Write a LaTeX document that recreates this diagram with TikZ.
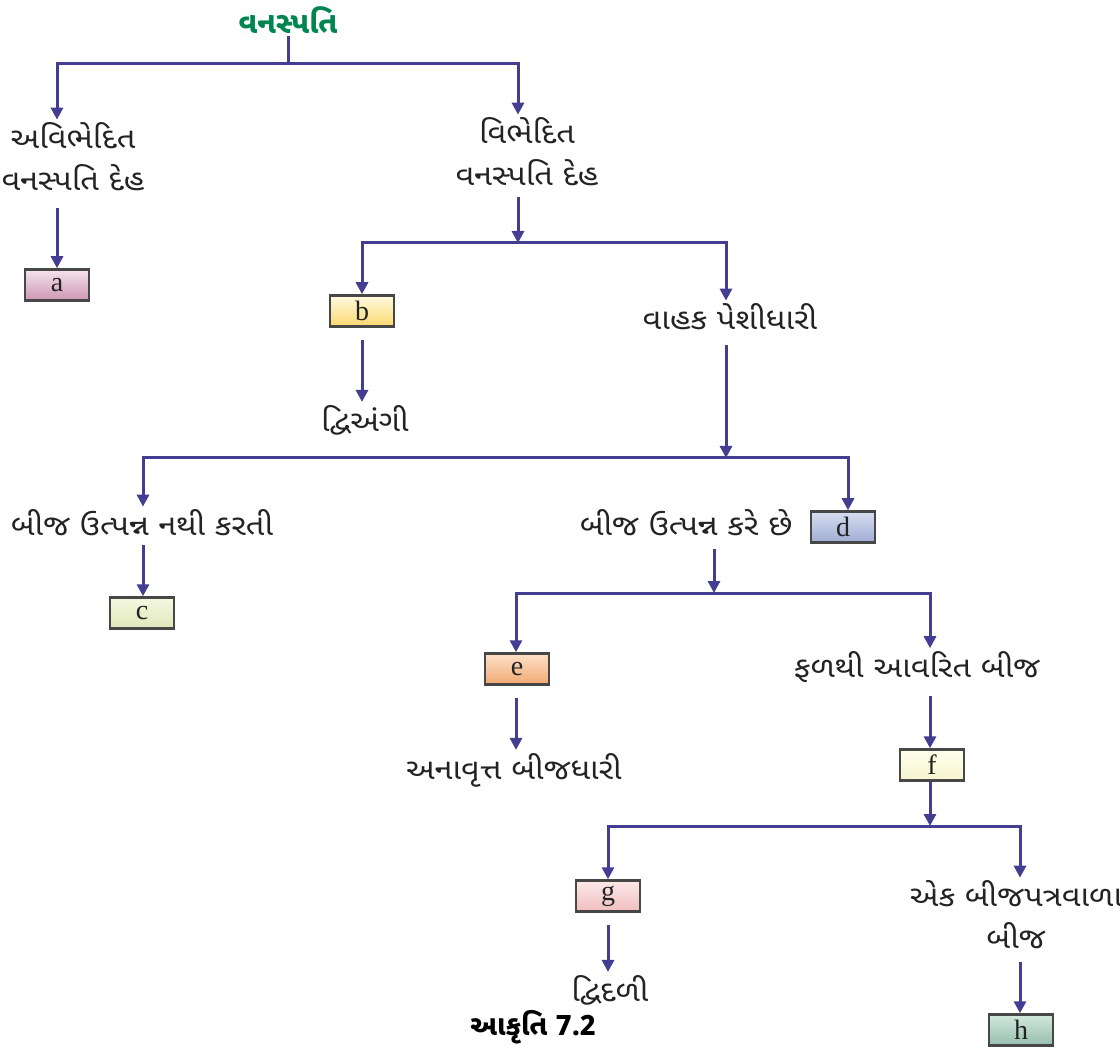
\documentclass[tikz,border=0pt]{standalone}
\usepackage{fontspec}
\setmainfont{Liberation Serif}
\newfontfamily\guj[Script=Gujarati]{Noto Sans Gujarati UI}
\newfontfamily\gujw[Script=Gujarati,FakeStretch=1.12]{Noto Sans Gujarati UI}
\usetikzlibrary{arrows.meta,calc}
\definecolor{lnc}{RGB}{68,62,146}
\definecolor{ttl}{RGB}{0,133,80}
\definecolor{txt}{RGB}{35,35,35}
\begin{document}
\begin{tikzpicture}[x=1pt,y=-1pt,
  conn/.style={draw=lnc,line width=3pt},
  arr/.style={conn,-{Triangle[length=12pt,width=12pt]}},
  lbl/.style={font=\gujw\fontsize{29}{42}\selectfont,align=center,inner sep=3pt,text=txt},
  box/.style={draw=black!72,line width=2.5pt,minimum width=64pt,minimum height=31pt,inner sep=0pt,font=\fontsize{28}{28}\selectfont,text=txt},
]
\useasboundingbox (0,0) rectangle (1120,1048);

% title
\node[font=\guj\bfseries\fontsize{30}{30}\selectfont,text=ttl,inner sep=2pt] (title) at (288,20) {વનસ્પતિ};

% junction coordinates
\coordinate (h1M) at (288,64);  \coordinate (h1L) at (57,64);   \coordinate (h1R) at (518,64);
\coordinate (h2M) at (518,243); \coordinate (h2L) at (362,243); \coordinate (h2R) at (726,243);
\coordinate (h3M) at (726,458); \coordinate (h3L) at (143,458); \coordinate (h3R) at (848,458);
\coordinate (h4M) at (714,593); \coordinate (h4L) at (516,593); \coordinate (h4R) at (930,593);
\coordinate (h5M) at (930,826); \coordinate (h5L) at (608,826); \coordinate (h5R) at (1020,826);

% text nodes
\node[lbl] (n1) at (73,157) {અવિભેદિત\\વનસ્પતિ દેહ};
\node[lbl] (n2) at (527,152) {વિભેદિત\\વનસ્પતિ દેહ};
\node[lbl] (n3) at (730,317) {વાહક પેશીધારી};
\node[lbl] (n4) at (365,420) {દ્વિઅંગી};
\node[lbl] (n5) at (142,523) {બીજ ઉત્પન્ન નથી કરતી};
\node[lbl] (n6) at (686,523) {બીજ ઉત્પન્ન કરે છે};
\node[lbl] (n7) at (917,667) {ફળથી આવરિત બીજ};
\node[lbl] (n8) at (514,770) {અનાવૃત્ત બીજધારી};
\node[lbl] (n9) at (1016,915) {એક બીજપત્રવાળા\\બીજ};
\node[lbl] (n10) at (610,990) {દ્વિદળી};
\node[font=\guj\bfseries\fontsize{28}{28}\selectfont,text=black,inner sep=2pt] (cap) at (533,1027) {આકૃતિ 7.2};

% boxes
\node[box,top color={rgb,255:red,245;green,228;blue,236},bottom color={rgb,255:red,205;green,150;blue,180}] (a) at (57,285) {a};
\node[box,top color={rgb,255:red,255;green,250;blue,225},bottom color={rgb,255:red,250;green,215;blue,110}] (b) at (362,311) {b};
\node[box,top color={rgb,255:red,245;green,248;blue,225},bottom color={rgb,255:red,222;green,232;blue,185}] (c) at (142,613) {c};
\node[box,top color={rgb,255:red,215;green,222;blue,240},bottom color={rgb,255:red,160;green,172;blue,212}] (d) at (843,527) {d};
\node[box,top color={rgb,255:red,252;green,225;blue,200},bottom color={rgb,255:red,242;green,168;blue,115}] (e) at (517,669) {e};
\node[box,top color={rgb,255:red,255;green,255;blue,238},bottom color={rgb,255:red,245;green,245;blue,205}] (f) at (932,765) {f};
\node[box,top color={rgb,255:red,252;green,232;blue,232},bottom color={rgb,255:red,240;green,190;blue,192}] (g) at (608,896) {g};
\node[box,top color={rgb,255:red,210;green,232;blue,222},bottom color={rgb,255:red,150;green,190;blue,175}] (h) at (1021,1030) {h};

% connectors
\draw[conn] (title.south) -- (h1M);
\draw[arr] (h1M) -- (h1L) -- (h1L |- n1.north);
\draw[arr] (h1M) -- (h1R) -- (h1R |- n2.north);
\draw[arr,shorten <=14pt] (n1.south -| a.north) -- (a.north);
\draw[arr,shorten <=8pt] (n2.south -| h2M) -- (h2M);
\draw[arr] (h2M) -- (h2L) -- (b.north);
\draw[arr] (h2M) -- (h2R) -- (h2R |- n3.north);
\draw[arr,shorten <=12pt] (b.south) -- (b.south |- n4.north);
\draw[arr,shorten <=12pt] (n3.south -| h3M) -- (h3M);
\draw[arr] (h3M) -- (h3L) -- (h3L |- n5.north);
\draw[arr] (h3M) -- (h3R) -- (h3R |- d.north);
\draw[arr,shorten <=6pt] (n5.south -| h3L) -- (h3L |- c.north);
\draw[arr,shorten <=10pt] (n6.south -| h4M) -- (h4M);
\draw[arr] (h4M) -- (h4L) -- (h4L |- e.north);
\draw[arr] (h4M) -- (h4R) -- (h4R |- n7.north);
\draw[arr,shorten <=12pt] (e.south -| h4L) -- (h4L |- n8.north);
\draw[arr,shorten <=10pt] (n7.south -| h4R) -- (h4R |- f.north);
\draw[arr] (f.south -| h5M) -- (h5M);
\draw[arr] (h5M) -- (h5L) -- (g.north);
\draw[arr] (h5M) -- (h5R) -- (h5R |- n9.north);
\draw[arr,shorten <=12pt] (g.south) -- (g.south |- n10.north);
\draw[arr,shorten <=10pt] (n9.south -| h5R) -- (h5R |- h.north);
\end{tikzpicture}
\end{document}
